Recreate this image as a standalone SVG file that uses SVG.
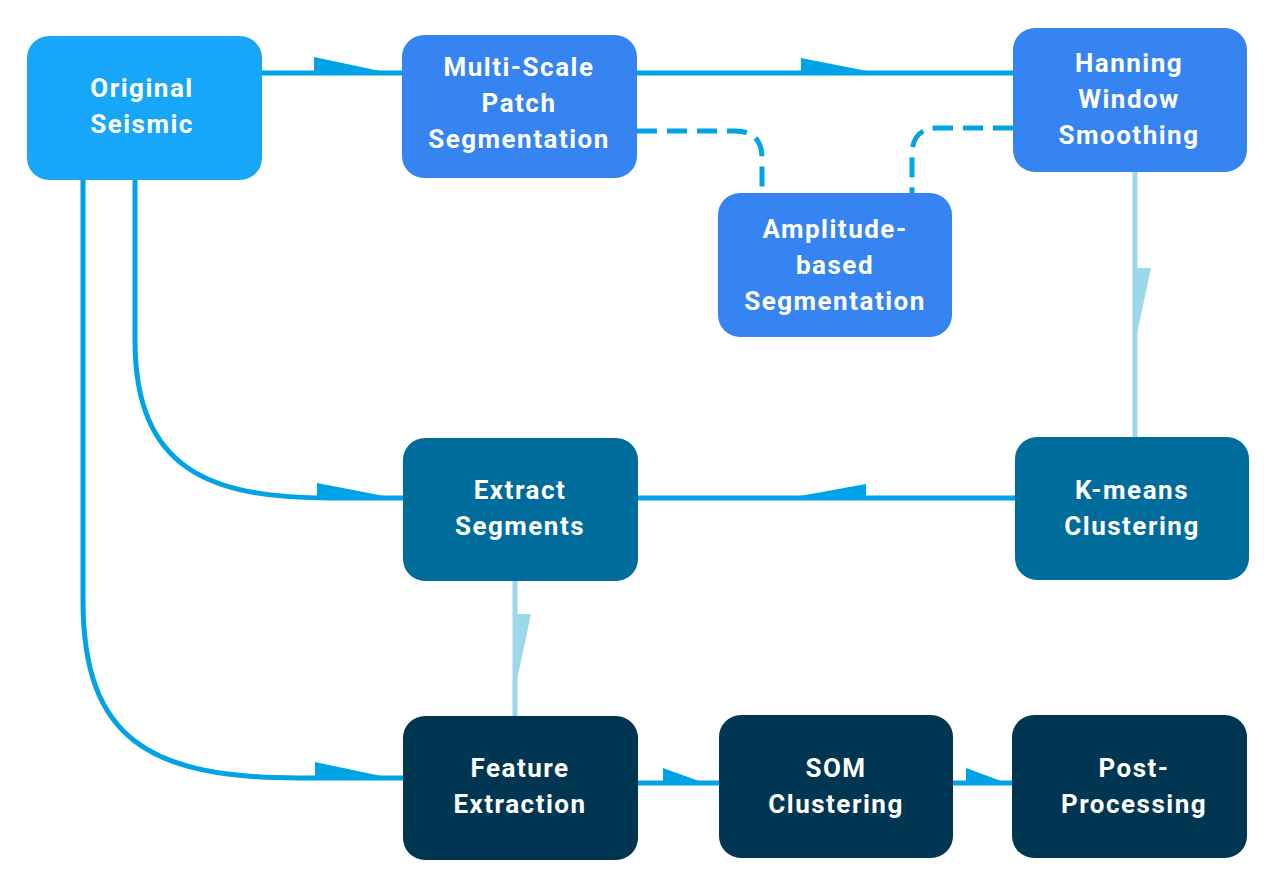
<svg xmlns="http://www.w3.org/2000/svg" width="1275" height="885" viewBox="0 0 1275 885">
<style>
.t{font-family:Roboto,"DejaVu Sans",sans-serif;font-weight:700;font-size:26px;fill:#ffffff;text-anchor:middle;letter-spacing:1.5px}
.c{fill:none;stroke:#00A3E6;stroke-width:5}
.l{fill:none;stroke:#9DD8EA;stroke-width:5}
.d{fill:none;stroke:#00A3E6;stroke-width:5;stroke-dasharray:20 10}
.h{fill:#00A3E6}
.hl{fill:#9DD8EA}
</style>
<rect width="1275" height="885" fill="#ffffff"/>
<g id="connectors">
<path class="c" d="M262,73 H402"/>
<polygon class="h" points="314,71 314,57 380,71"/>
<path class="c" d="M637,73 H1013"/>
<polygon class="h" points="801,71 801,58 867,71"/>
<path class="d" d="M637,131 H735 Q762,131 762,158 V193"/>
<path class="d" d="M1013,128 H938 Q912,128 912,155 V193"/>
<path class="l" d="M1135,172 V437"/>
<polygon class="hl" points="1137,268 1151,268 1137,334"/>
<path class="c" d="M1015,498 H638"/>
<polygon class="h" points="866,496 866,484 800,496"/>
<path class="c" d="M135,180 V340 C135,470 210,498 330,498 H403"/>
<polygon class="h" points="317,496 317,483 384,496"/>
<path class="c" d="M83,180 V600 C83,740 150,778 300,778 H403"/>
<polygon class="h" points="315,776 315,762 381,776"/>
<path class="l" d="M515,581 V716"/>
<polygon class="hl" points="517,614 531,614 517,680"/>
<path class="c" d="M638,783 H719"/>
<polygon class="h" points="663,781 663,768 699,781"/>
<path class="c" d="M953,783 H1012"/>
<polygon class="h" points="966,781 966,768 1001,781"/>
</g>
<g id="original-seismic">
<rect x="27" y="36" width="235" height="144" rx="22" fill="#17A6F8"/>
<text class="t" x="142" y="97">Original</text>
<text class="t" x="142" y="133">Seismic</text>
</g>
<g id="multi-scale">
<rect x="402" y="35" width="235" height="143" rx="22" fill="#3684F2"/>
<text class="t" x="519" y="76">Multi-Scale</text>
<text class="t" x="519" y="112">Patch</text>
<text class="t" x="519" y="148">Segmentation</text>
</g>
<g id="hanning">
<rect x="1013" y="28" width="234" height="144" rx="22" fill="#3684F2"/>
<text class="t" x="1129" y="72">Hanning</text>
<text class="t" x="1129" y="108">Window</text>
<text class="t" x="1129" y="144">Smoothing</text>
</g>
<g id="amplitude">
<rect x="718" y="193" width="234" height="144" rx="22" fill="#3684F2"/>
<text class="t" x="835" y="238">Amplitude-</text>
<text class="t" x="835" y="274">based</text>
<text class="t" x="835" y="310">Segmentation</text>
</g>
<g id="extract-segments">
<rect x="403" y="438" width="235" height="143" rx="22" fill="#006C9C"/>
<text class="t" x="520" y="499">Extract</text>
<text class="t" x="520" y="535">Segments</text>
</g>
<g id="k-means">
<rect x="1015" y="437" width="234" height="143" rx="22" fill="#006C9C"/>
<text class="t" x="1132" y="499">K-means</text>
<text class="t" x="1132" y="535">Clustering</text>
</g>
<g id="feature-extraction">
<rect x="403" y="716" width="235" height="144" rx="22" fill="#003651"/>
<text class="t" x="520" y="777">Feature</text>
<text class="t" x="520" y="813">Extraction</text>
</g>
<g id="som">
<rect x="719" y="715" width="234" height="143" rx="22" fill="#003651"/>
<text class="t" x="836" y="777">SOM</text>
<text class="t" x="836" y="813">Clustering</text>
</g>
<g id="post-processing">
<rect x="1012" y="715" width="235" height="143" rx="22" fill="#003651"/>
<text class="t" x="1134" y="777">Post-</text>
<text class="t" x="1134" y="813">Processing</text>
</g>
</svg>
